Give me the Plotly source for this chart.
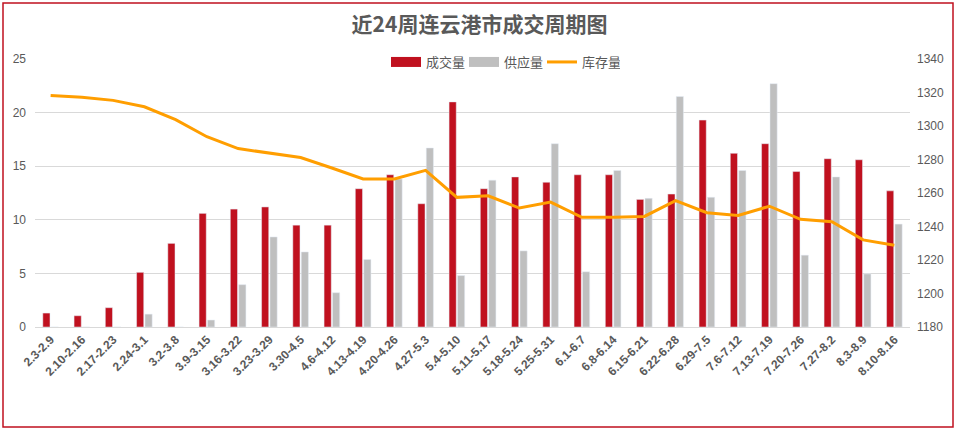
import plotly.graph_objects as go

categories = ["2.3-2.9", "2.10-2.16", "2.17-2.23", "2.24-3.1", "3.2-3.8", "3.9-3.15",
              "3.16-3.22", "3.23-3.29", "3.30-4.5", "4.6-4.12", "4.13-4.19", "4.20-4.26",
              "4.27-5.3", "5.4-5.10", "5.11-5.17", "5.18-5.24", "5.25-5.31", "6.1-6.7",
              "6.8-6.14", "6.15-6.21", "6.22-6.28", "6.29-7.5", "7.6-7.12", "7.13-7.19",
              "7.20-7.26", "7.27-8.2", "8.3-8.9", "8.10-8.16"]

deals = [1.3, 1.05, 1.8, 5.1, 7.8, 10.6, 11.0, 11.2, 9.5, 9.5, 12.9, 14.2,
         11.5, 21.0, 12.9, 14.0, 13.5, 14.2, 14.2, 11.9, 12.4, 19.3, 16.2, 17.1,
         14.5, 15.7, 15.6, 12.7]

supply = [0, 0, 0, 1.2, 0, 0.65, 3.95, 8.4, 7.0, 3.2, 6.3, 13.8,
          16.7, 4.8, 13.7, 7.1, 17.1, 5.15, 14.6, 12.0, 21.5, 12.1, 14.6, 22.7,
          6.7, 14.0, 4.95, 9.6]

inventory = [1318.2, 1317.1, 1315.3, 1311.5, 1303.8, 1293.6, 1286.5, 1283.7, 1281.2, 1274.9,
             1268.4, 1268.4, 1273.5, 1257.4, 1258.3, 1251.0, 1254.6, 1245.5, 1245.5, 1246.0,
             1255.4, 1248.2, 1246.6, 1252.1, 1244.3, 1242.8, 1232.0, 1228.8]

series_names = ["成交量", "供应量", "库存量"]

RED = "#C0111F"
GRAY = "#BFBFBF"
ORANGE = "#FF9E00"
TXT = "#595959"
FONT = "Liberation Sans, Noto Sans CJK SC, sans-serif"
CJK = "Noto Sans CJK SC, sans-serif"

fig = go.Figure()
fig.add_trace(go.Bar(x=categories, y=deals, name=series_names[0], marker_color=RED,
                     yaxis="y", showlegend=False))
fig.add_trace(go.Bar(x=categories, y=supply, name=series_names[1], marker_color=GRAY,
                     yaxis="y", showlegend=False))
fig.add_trace(go.Scatter(x=categories, y=inventory, name=series_names[2], mode="lines",
                         line=dict(color=ORANGE, width=3), yaxis="y2", showlegend=False))

# legend-only entries (wide rectangular swatches like the original)
for nm, col, w in [(series_names[0], RED, 10), (series_names[1], GRAY, 10), (series_names[2], ORANGE, 3)]:
    fig.add_trace(go.Scatter(x=[None], y=[None], name=nm, mode="lines",
                             line=dict(color=col, width=w), yaxis="y", showlegend=True))

# plot area: x 35..910, y 59..327 (pixels)
L, R, T, B = 35, 910, 59, 327
W, H = R - L, B - T

def px(x):
    return (x - L) / W

def py(y):
    return (B - y) / H

fig.update_layout(
    width=959, height=431,
    margin=dict(l=L, r=959 - R, t=T, b=431 - B, autoexpand=False),
    paper_bgcolor="white", plot_bgcolor="white",
    barmode="group", bargap=0.46, bargroupgap=0.15,
    font=dict(family=FONT, color=TXT, size=12),
    title=dict(text="<b>近24周连云港市成交周期图</b>", x=0.5, xanchor="center",
               y=1 - 25 / 431, yanchor="middle",
               font=dict(family=CJK, size=21, color=TXT)),
    showlegend=True,
    legend=dict(orientation="h", x=px(386), xanchor="left", y=py(62), yanchor="middle",
                font=dict(family=CJK, size=13, color=TXT), bgcolor="rgba(0,0,0,0)",
                itemwidth=30, traceorder="normal", itemclick=False,
                entrywidth=33, entrywidthmode="pixels"),
    xaxis=dict(type="category", tickangle=-45, showgrid=False, showline=True,
               linecolor="#D9D9D9", linewidth=1, ticks="", automargin=False,
               tickfont=dict(family=FONT, size=12, color=TXT, weight="bold")),
    yaxis=dict(range=[0, 25], dtick=5, showgrid=True, gridcolor="#D9D9D9", gridwidth=1,
               zeroline=False, showline=False, ticks="", automargin=False,
               ticklabelstandoff=8,
               tickfont=dict(family=FONT, size=12, color=TXT)),
    yaxis2=dict(range=[1180, 1340], dtick=20, overlaying="y", side="right",
                showgrid=False, zeroline=False, showline=False, ticks="", automargin=False,
                ticklabelstandoff=6,
                tickfont=dict(family=FONT, size=12, color=TXT)),
    shapes=[dict(type="rect", xref="paper", yref="paper",
                 x0=px(3), x1=px(953), y0=py(427), y1=py(3),
                 line=dict(color=RED, width=1.5), fillcolor="rgba(0,0,0,0)", layer="below")],
)

fig.write_html("out.html", config={"displayModeBar": False},
               post_script="document.body.style.margin='0';document.body.style.padding='0';")
